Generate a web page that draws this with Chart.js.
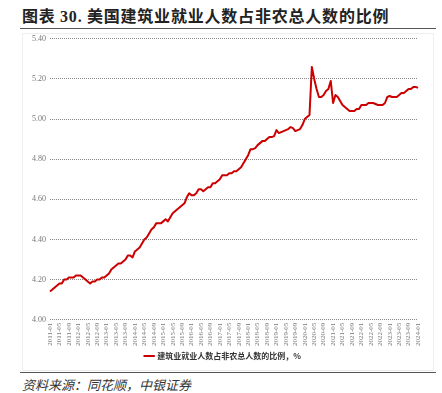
<!DOCTYPE html>
<html>
<head>
<meta charset="utf-8">
<script src="https://cdn.jsdelivr.net/npm/chart.js@4.4.1/dist/chart.umd.min.js"></script>
<style>
  body { margin: 0; background: #fff; width: 442px; height: 393px; position: relative; overflow: hidden; }
  #title { position: absolute; left: 22px; top: 3px; font: bold 16px "Noto Sans CJK SC", "Liberation Serif", serif; color: #222; letter-spacing: 0.8px; }
  #title .num { font-family: "Liberation Serif", serif; }
  #rule1 { position: absolute; left: 20px; right: 6px; top: 28px; border-top: 1.5px solid #555; }
  #box { position: absolute; left: 22px; right: 8px; top: 33px; height: 336px; border: 1px solid #eee; }
  #wrap { position: absolute; left: 0; top: 30px; width: 442px; height: 340px; }
  #rule2 { position: absolute; left: 20px; right: 6px; top: 372px; border-top: 1.5px solid #555; }
  #source { position: absolute; left: 22px; top: 375px; font: italic 13px "Noto Sans CJK SC", sans-serif; color: #333; }
</style>
</head>
<body>
<div id="title">图表 <span class="num">30.</span> 美国建筑业就业人数占非农总人数的比例</div>
<div id="rule1"></div>
<div id="box"></div>
<div id="wrap"><canvas id="chart"></canvas></div>
<div id="rule2"></div>
<div id="source">资料来源：同花顺，中银证券</div>
<script>
// monthly, 2011-01 .. 2024-01
const startYear = 2011;
const seriesName = "建筑业就业人数占非农总人数的比例，%";
const share = [
  // 2011
  4.14, 4.15, 4.16, 4.17, 4.18, 4.18, 4.20, 4.20, 4.21, 4.21, 4.21, 4.22,
  // 2012
  4.22, 4.22, 4.21, 4.20, 4.19, 4.18, 4.19, 4.19, 4.20, 4.20, 4.21, 4.21,
  // 2013
  4.22, 4.23, 4.25, 4.26, 4.27, 4.28, 4.28, 4.29, 4.30, 4.32, 4.32, 4.31,
  // 2014
  4.34, 4.35, 4.36, 4.38, 4.40, 4.41, 4.43, 4.45, 4.46, 4.48, 4.48, 4.48,
  // 2015
  4.49, 4.50, 4.49, 4.51, 4.53, 4.54, 4.55, 4.56, 4.57, 4.58, 4.61, 4.63,
  // 2016
  4.62, 4.62, 4.63, 4.65, 4.65, 4.64, 4.65, 4.66, 4.66, 4.68, 4.68, 4.69,
  // 2017
  4.70, 4.72, 4.72, 4.72, 4.73, 4.73, 4.74, 4.74, 4.75, 4.76, 4.78, 4.80,
  // 2018
  4.82, 4.85, 4.85, 4.855, 4.87, 4.88, 4.89, 4.89, 4.90, 4.91, 4.91, 4.915,
  // 2019
  4.945, 4.93, 4.935, 4.94, 4.945, 4.95, 4.96, 4.955, 4.94, 4.945, 4.95, 4.97,
  // 2020
  5.00, 5.01, 5.02, 5.26, 5.20, 5.15, 5.11, 5.11, 5.12, 5.14, 5.15, 5.19,
  // 2021
  5.08, 5.12, 5.11, 5.09, 5.07, 5.06, 5.05, 5.04, 5.04, 5.04, 5.05, 5.05,
  // 2022
  5.07, 5.07, 5.07, 5.08, 5.08, 5.08, 5.075, 5.07, 5.07, 5.07, 5.08, 5.11,
  // 2023
  5.115, 5.11, 5.11, 5.11, 5.12, 5.13, 5.13, 5.14, 5.15, 5.15, 5.16, 5.16,
  // 2024
  5.155
];
const labels = share.map((v, i) => {
  const y = startYear + Math.floor(i / 12);
  const m = (i % 12) + 1;
  return y + "-" + (m < 10 ? "0" + m : m);
});

const ctx = document.getElementById("chart").getContext("2d");
new Chart(ctx, {
  type: "line",
  data: {
    labels: labels,
    datasets: [{
      label: seriesName,
      data: share,
      borderColor: "#cc0000",
      backgroundColor: "#cc0000",
      borderWidth: 2,
      borderJoinStyle: "round",
      pointRadius: 0,
      tension: 0,
    }],
  },
  options: {
    responsive: true,
    maintainAspectRatio: false,
    animation: false,
    layout: { padding: { left: 28, right: 24, top: 4, bottom: 0 } },
    scales: {
      x: {
        grid: { display: false, drawTicks: false },
        border: { display: false },
        ticks: {
          autoSkip: false,
          maxRotation: 90,
          minRotation: 90,
          padding: 3,
          color: "#777",
          font: { family: "Liberation Serif", size: 7 },
          callback: function (val, i) { return i % 4 === 0 ? labels[i] : null; },
        },
      },
      y: {
        min: 4.0,
        max: 5.4,
        grid: { color: "#888", lineWidth: 1, drawTicks: false, borderDash: [1, 1] },
        border: { display: false, dash: [1, 1] },
        ticks: {
          stepSize: 0.2,
          padding: 4,
          color: "#777",
          font: { family: "Liberation Serif", size: 8 },
          callback: (v) => v.toFixed(2),
        },
      },
    },
    plugins: {
      legend: {
        position: "bottom",
        labels: {
          usePointStyle: true,
          pointStyle: "line",
          boxWidth: 20,
          color: "#333",
          padding: 3,
          font: { family: "Noto Sans CJK SC", size: 8, weight: "bold" },
        },
      },
      tooltip: { enabled: false },
    },
  },
});
</script>
</body>
</html>
